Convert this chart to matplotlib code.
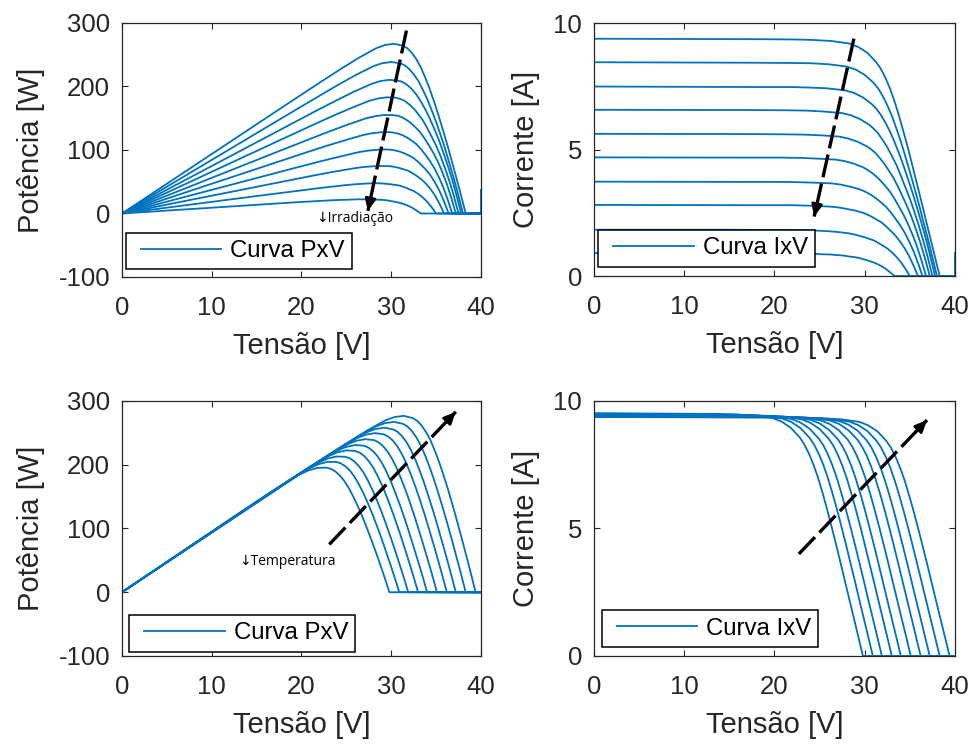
import matplotlib
matplotlib.use("Agg")
import matplotlib.pyplot as plt
from matplotlib.legend_handler import HandlerLine2D

plt.rcParams['font.family'] = ['Liberation Sans', 'DejaVu Sans']
plt.rcParams['axes.unicode_minus'] = False

BLUE = "#0072BD"
GRAY = "#262626"

# volts below open-circuit voltage at which each current sample was read
VOLTS_BELOW_VOC = [20, 16, 14, 12, 10, 9, 8, 7, 6.5, 6, 5.5, 5, 4.5, 4, 3.5, 3, 2.5, 2, 1.5, 1, 0.5, 0]

# irradiance sweep (100 ... 1000 W/m2): open-circuit voltages and currents
# each current list: I at V=0, then at Voc-20, Voc-16, ..., Voc-0.5, Voc
IRR_VOC = [33.3, 35.0, 35.9, 36.4, 36.8, 37.2, 37.5, 37.8, 38.0, 38.3]
IRR_CURRENT = [
    [0.91, 0.91, 0.91, 0.91, 0.90, 0.89, 0.88, 0.86, 0.85, 0.83, 0.82, 0.80, 0.77, 0.75, 0.72, 0.67, 0.62, 0.56, 0.49, 0.40, 0.29, 0.15, 0.0],
    [1.83, 1.83, 1.82, 1.82, 1.81, 1.79, 1.77, 1.74, 1.70, 1.67, 1.63, 1.58, 1.53, 1.47, 1.41, 1.31, 1.20, 1.09, 0.94, 0.76, 0.55, 0.29, 0.0],
    [2.81, 2.80, 2.80, 2.80, 2.78, 2.75, 2.72, 2.66, 2.59, 2.54, 2.49, 2.41, 2.32, 2.21, 2.11, 1.95, 1.78, 1.60, 1.37, 1.11, 0.80, 0.42, 0.0],
    [3.73, 3.72, 3.72, 3.71, 3.69, 3.66, 3.61, 3.53, 3.43, 3.36, 3.27, 3.16, 3.03, 2.88, 2.72, 2.51, 2.27, 2.02, 1.73, 1.38, 0.99, 0.52, 0.0],
    [4.69, 4.68, 4.68, 4.67, 4.64, 4.60, 4.54, 4.44, 4.30, 4.20, 4.08, 3.93, 3.75, 3.55, 3.33, 3.05, 2.74, 2.42, 2.05, 1.63, 1.16, 0.60, 0.0],
    [5.62, 5.61, 5.60, 5.59, 5.56, 5.51, 5.43, 5.31, 5.13, 5.01, 4.86, 4.65, 4.42, 4.15, 3.87, 3.52, 3.14, 2.75, 2.32, 1.82, 1.28, 0.67, 0.0],
    [6.57, 6.56, 6.55, 6.54, 6.50, 6.44, 6.35, 6.20, 5.98, 5.82, 5.63, 5.37, 5.09, 4.75, 4.40, 3.97, 3.51, 3.06, 2.54, 1.98, 1.38, 0.72, 0.0],
    [7.49, 7.47, 7.47, 7.45, 7.42, 7.34, 7.24, 7.06, 6.79, 6.61, 6.36, 6.06, 5.71, 5.30, 4.85, 4.36, 3.83, 3.29, 2.70, 2.08, 1.44, 0.73, 0.0],
    [8.45, 8.43, 8.42, 8.41, 8.37, 8.28, 8.16, 7.95, 7.63, 7.41, 7.11, 6.75, 6.34, 5.84, 5.31, 4.73, 4.12, 3.49, 2.84, 2.15, 1.46, 0.74, 0.0],
    [9.38, 9.36, 9.35, 9.33, 9.29, 9.19, 9.05, 8.82, 8.44, 8.18, 7.83, 7.41, 6.91, 6.33, 5.70, 5.04, 4.34, 3.63, 2.91, 2.18, 1.45, 0.73, 0.0],
]
# short joining strokes drawn by the original plot at V=0 and V=40
IRR_LINK_V0 = [(9.38, 5.62), (3.73, 2.81), (1.83, 0.91)]
IRR_LINK_V40 = (0.0, 0.91)

# temperature sweep (hot ... cold)
TEMP_VOC = [29.8, 30.9, 31.9, 33.0, 34.0, 35.1, 36.2, 37.2, 38.3, 39.4]
TEMP_CURRENT = [
    [9.52, 9.50, 9.49, 9.47, 9.42, 9.33, 9.19, 8.95, 8.57, 8.30, 7.95, 7.52, 7.02, 6.43, 5.79, 5.11, 4.41, 3.68, 2.95, 2.21, 1.48, 0.74, 0.0],
    [9.50, 9.48, 9.47, 9.45, 9.41, 9.31, 9.17, 8.93, 8.55, 8.28, 7.93, 7.51, 7.00, 6.41, 5.78, 5.10, 4.40, 3.68, 2.95, 2.20, 1.47, 0.74, 0.0],
    [9.48, 9.46, 9.45, 9.43, 9.39, 9.29, 9.15, 8.91, 8.53, 8.27, 7.92, 7.49, 6.99, 6.40, 5.76, 5.09, 4.39, 3.67, 2.94, 2.20, 1.47, 0.74, 0.0],
    [9.47, 9.45, 9.44, 9.42, 9.38, 9.28, 9.14, 8.90, 8.52, 8.26, 7.91, 7.48, 6.98, 6.39, 5.76, 5.09, 4.38, 3.66, 2.94, 2.20, 1.47, 0.74, 0.0],
    [9.45, 9.43, 9.42, 9.40, 9.36, 9.26, 9.12, 8.88, 8.51, 8.24, 7.89, 7.47, 6.96, 6.38, 5.75, 5.07, 4.38, 3.66, 2.93, 2.19, 1.46, 0.74, 0.0],
    [9.43, 9.41, 9.40, 9.38, 9.34, 9.24, 9.10, 8.86, 8.49, 8.22, 7.87, 7.45, 6.95, 6.37, 5.73, 5.06, 4.37, 3.65, 2.92, 2.19, 1.46, 0.74, 0.0],
    [9.42, 9.40, 9.39, 9.37, 9.33, 9.23, 9.09, 8.85, 8.48, 8.21, 7.87, 7.44, 6.94, 6.36, 5.73, 5.06, 4.36, 3.65, 2.92, 2.19, 1.46, 0.73, 0.0],
    [9.40, 9.38, 9.37, 9.35, 9.31, 9.21, 9.07, 8.84, 8.46, 8.20, 7.85, 7.43, 6.93, 6.35, 5.72, 5.05, 4.35, 3.64, 2.91, 2.18, 1.46, 0.73, 0.0],
    [9.38, 9.36, 9.35, 9.33, 9.29, 9.19, 9.05, 8.82, 8.44, 8.18, 7.83, 7.41, 6.91, 6.33, 5.70, 5.04, 4.34, 3.63, 2.91, 2.18, 1.45, 0.73, 0.0],
    [9.37, 9.35, 9.34, 9.32, 9.28, 9.18, 9.04, 8.81, 8.43, 8.17, 7.82, 7.40, 6.91, 6.32, 5.70, 5.03, 4.34, 3.63, 2.90, 2.17, 1.45, 0.73, 0.0],
]

V_MAX = 40.0
X_TICKS = [0, 10, 20, 30, 40]
P_TICKS = [-100, 0, 100, 200, 300]
I_TICKS = [0, 5, 10]

# dashed arrows (start, end) and annotation labels
ARROW_IRR_P = ((31.7, 288), (27.4, 4))
ARROW_IRR_I = ((28.8, 9.38), (24.4, 2.35))
ARROW_TEMP_P = ((23.1, 75), (37.2, 283))
ARROW_TEMP_I = ((22.7, 4.0), (36.9, 9.25))


def curve(voc: float, current: list) -> tuple:
    v = [0.0] + [voc - d for d in VOLTS_BELOW_VOC] + [V_MAX]
    i = list(current) + [0.0]
    return v, i


def style_axes(ax, yticks, ylim, ylabel):
    ax.set_xlim(0, V_MAX)
    ax.set_ylim(*ylim)
    ax.set_xticks(X_TICKS)
    ax.set_yticks(yticks)
    ax.tick_params(direction="in", top=True, right=True, length=4, width=0.8,
                   labelsize=18.5, colors=GRAY)
    ax.tick_params(axis="x", pad=14)
    ax.tick_params(axis="y", pad=8.5)
    for s in ax.spines.values():
        s.set_color(GRAY)
        s.set_linewidth(0.9)
    ax.set_xlabel("Tensão [V]", fontsize=21, color=GRAY, labelpad=8)
    ax.set_ylabel(ylabel, fontsize=21, color=GRAY, labelpad=10)


def dashed_arrow(ax, start, end):
    ax.plot([start[0], end[0]], [start[1], end[1]], color="k", lw=2.4,
            ls=(0, (7, 1.9)), dash_capstyle="butt", zorder=4)
    pre = (end[0] - 0.05 * (end[0] - start[0]), end[1] - 0.05 * (end[1] - start[1]))
    ax.annotate("", xy=end, xytext=pre,
                arrowprops=dict(arrowstyle="-|>,head_length=0.7,head_width=0.32",
                                color="k", lw=2, shrinkA=0, shrinkB=0), zorder=5)


def add_legend(ax, label, anchor):
    handle = ax.get_lines()[0]
    leg = ax.legend([handle], [label], loc="lower left", bbox_to_anchor=anchor,
                    borderaxespad=0, fontsize=17.3, handlelength=3.67,
                    handletextpad=0.38, borderpad=0.3, fancybox=False, framealpha=1,
                    edgecolor="k", handler_map={handle: HandlerLine2D(xpad=0.33)})
    leg.get_frame().set_linewidth(1.1)
    for t in leg.get_texts():
        t.set_color("k")


def main() -> None:
    fig = plt.figure(figsize=(9.71, 7.45), dpi=100)
    ax_tl = fig.add_axes([0.1256, 0.6282, 0.3697, 0.3410])
    ax_tr = fig.add_axes([0.6117, 0.6295, 0.3718, 0.3396])
    ax_bl = fig.add_axes([0.1256, 0.1195, 0.3697, 0.3423])
    ax_br = fig.add_axes([0.6117, 0.1195, 0.3718, 0.3423])

    # irradiance sweep
    for voc, cur in zip(IRR_VOC, IRR_CURRENT):
        v, i = curve(voc, cur)
        p = [a * b for a, b in zip(v, i)]
        ax_tl.plot(v, p, color=BLUE, lw=1.3)
        ax_tr.plot(v, i, color=BLUE, lw=1.3)
    for top, bot in IRR_LINK_V0:
        ax_tr.plot([0, 0], [top, bot], color=BLUE, lw=1.3)
    ax_tr.plot([V_MAX, V_MAX], list(IRR_LINK_V40), color=BLUE, lw=1.3, clip_on=False)
    ax_tl.plot([V_MAX, V_MAX], [V_MAX * x for x in IRR_LINK_V40], color=BLUE, lw=1.3,
               clip_on=False)

    # temperature sweep
    for voc, cur in zip(TEMP_VOC, TEMP_CURRENT):
        v, i = curve(voc, cur)
        p = [a * b for a, b in zip(v, i)]
        ax_bl.plot(v, p, color=BLUE, lw=1.3)
        ax_br.plot(v, i, color=BLUE, lw=1.3)

    style_axes(ax_tl, P_TICKS, (-100, 300), "Potência [W]")
    style_axes(ax_tr, I_TICKS, (0, 10), "Corrente [A]")
    style_axes(ax_bl, P_TICKS, (-100, 300), "Potência [W]")
    style_axes(ax_br, I_TICKS, (0, 10), "Corrente [A]")

    dashed_arrow(ax_tl, *ARROW_IRR_P)
    dashed_arrow(ax_tr, *ARROW_IRR_I)
    dashed_arrow(ax_bl, *ARROW_TEMP_P)
    dashed_arrow(ax_br, *ARROW_TEMP_I)

    small = ["Open Sans", "DejaVu Sans"]
    ax_tl.text(21.6, -8, "↓Irradiação", fontsize=10, va="center", family=small, color="k")
    ax_bl.text(13.1, 48, "↓Temperatura", fontsize=10, va="center", family=small, color="k")

    add_legend(ax_tl, "Curva PxV", (0.011, 0.030))
    add_legend(ax_tr, "Curva IxV", (0.012, 0.037))
    add_legend(ax_bl, "Curva PxV", (0.020, 0.017))
    add_legend(ax_br, "Curva IxV", (0.021, 0.036))

    fig.savefig("out.png", dpi=100)


if __name__ == "__main__":
    main()
